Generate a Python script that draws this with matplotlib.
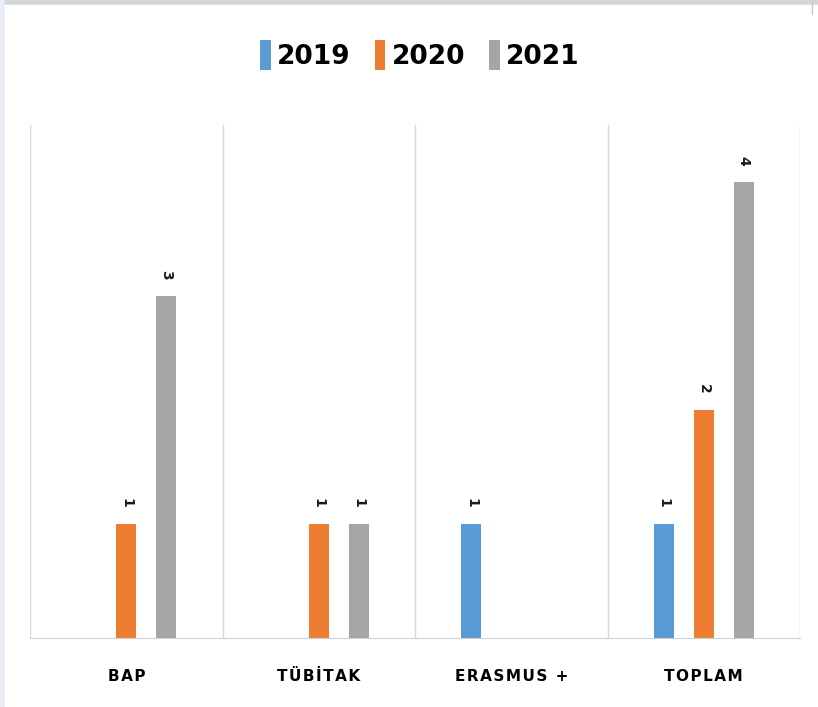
import numpy as np
import matplotlib.pyplot as plt
from matplotlib.lines import Line2D
from matplotlib.patches import Patch

categories = ['BAP', 'TÜBİTAK', 'ERASMUS +', 'TOPLAM']
years = ['2019', '2020', '2021']
values_2019 = [0, 0, 1, 1]
values_2020 = [1, 1, 0, 2]
values_2021 = [3, 1, 0, 4]
colors = ['#5b9bd5', '#ed7d31', '#a5a5a5']

series = [values_2019, values_2020, values_2021]

fig = plt.figure(figsize=(8.18, 7.07), dpi=100)
ax = fig.add_axes([30 / 818, 69 / 707, 770 / 818, 513 / 707])

x = np.arange(len(categories))
width = 0.104
offsets = [-0.207, 0, 0.207]

for vals, off, col in zip(series, offsets, colors):
    for xi, v in zip(x, vals):
        if v == 0:
            continue
        ax.bar(xi + off, v, width=width, color=col)
        ax.text(xi + off, v + 0.14, str(v), rotation=270, ha='center', va='bottom',
                fontsize=10, fontweight='bold', color='#1a1a1a')

ax.set_xlim(-0.5, len(categories) - 0.5)
ax.set_ylim(0, 4.5)
ax.set_yticks([])
ax.set_xticks(x)
spaced = ['\u200a'.join(c) for c in categories]
ax.set_xticklabels(spaced, fontsize=11, fontweight='bold', color='#000000')
ax.tick_params(axis='x', length=0, pad=22)

for s in ['top', 'right', 'left']:
    ax.spines[s].set_visible(False)
ax.spines['bottom'].set_color('#d0d0d0')

for b in np.arange(len(categories) + 1) - 0.5:
    ax.axvline(b, color='#d9d9d9', lw=1)

handles = [Patch(facecolor=c, edgecolor='none') for c in colors]
fig.legend(handles, years, loc='center', bbox_to_anchor=(420 / 818, 1 - 55 / 707),
           ncol=3, frameon=False, handlelength=0.4, handleheight=1.35,
           handletextpad=0.25, columnspacing=0.9,
           prop={'weight': 'bold', 'size': 19})

# outer frame lines
fig.add_artist(Line2D([0, 1], [1 - 2 / 707, 1 - 2 / 707], color='#d4d8dc', lw=4))
fig.add_artist(Line2D([2 / 818, 2 / 818], [0, 1], color='#e8eef6', lw=4))
fig.add_artist(Line2D([812 / 818, 812 / 818], [1, 1 - 14 / 707], color='#c8c8c8', lw=1))

fig.savefig('out.png', dpi=100)
